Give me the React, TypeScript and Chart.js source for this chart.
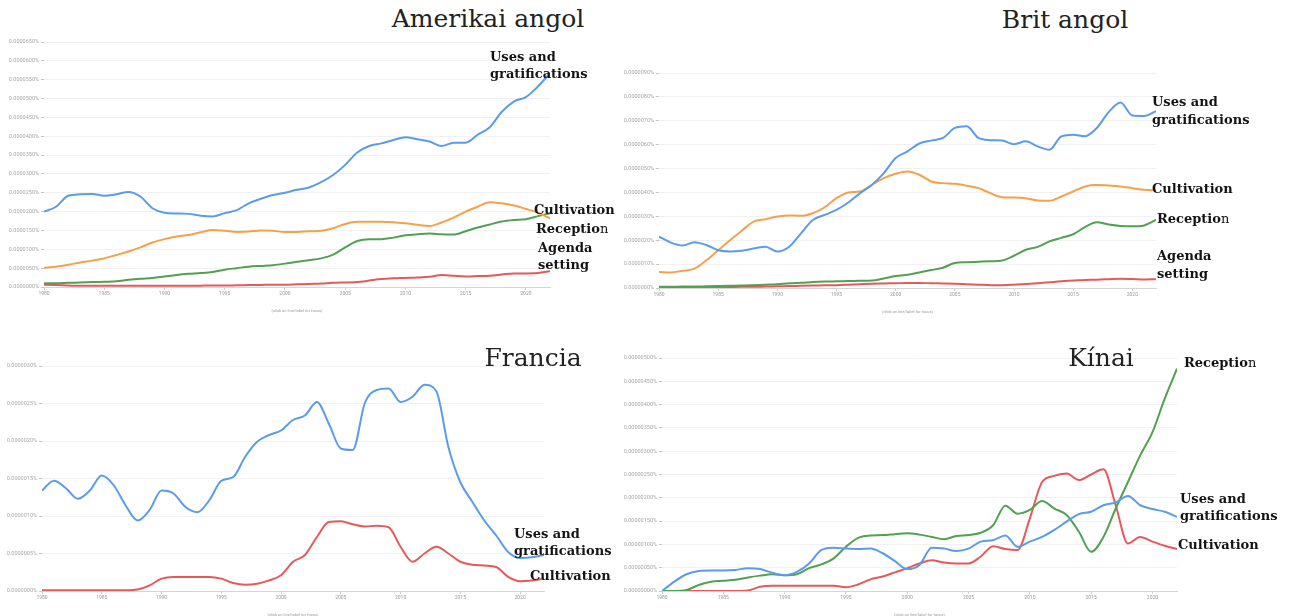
import React, { useEffect, useRef } from 'react';
import { Chart, registerables } from 'chart.js';

Chart.register(...registerables);

// Years on the x axis (shared by every panel)
const years = [
  1980, 1981, 1982, 1983, 1984, 1985, 1986, 1987, 1988, 1989,
  1990, 1991, 1992, 1993, 1994, 1995, 1996, 1997, 1998, 1999,
  2000, 2001, 2002, 2003, 2004, 2005, 2006, 2007, 2008, 2009,
  2010, 2011, 2012, 2013, 2014, 2015, 2016, 2017, 2018, 2019,
  2020, 2021, 2022,
];

const xTickLabels = ['1980', '1985', '1990', '1995', '2000', '2005', '2010', '2015', '2020'];

// --- Amerikai angol (values in units of 0.0000010 %) ---
const amUses = [
  20.0, 21.3, 24.2, 24.6, 24.7, 24.2, 24.6, 25.2, 24.0, 20.9,
  19.7, 19.5, 19.4, 18.9, 18.7, 19.6, 20.4, 22.2, 23.4, 24.4,
  25.0, 25.8, 26.4, 27.8, 29.7, 32.4, 35.7, 37.4, 38.1, 39.0,
  39.7, 39.2, 38.6, 37.4, 38.3, 38.3, 40.4, 42.4, 46.5, 49.2,
  50.4, 53.2, 56.7,
];
const amCultivation = [
  5.1, 5.4, 5.9, 6.5, 7.0, 7.6, 8.5, 9.4, 10.5, 11.8,
  12.7, 13.4, 13.8, 14.5, 15.1, 14.9, 14.6, 14.7, 15.0, 14.9,
  14.6, 14.6, 14.8, 14.9, 15.6, 16.7, 17.3, 17.3, 17.3, 17.2,
  16.9, 16.5, 16.2, 17.1, 18.4, 20.0, 21.3, 22.5, 22.2, 21.6,
  20.7, 19.7, 18.2,
];
const amReception = [
  1.0, 1.0, 1.1, 1.2, 1.3, 1.4, 1.5, 1.9, 2.2, 2.4,
  2.8, 3.2, 3.5, 3.7, 4.0, 4.6, 5.0, 5.4, 5.6, 5.8,
  6.2, 6.7, 7.1, 7.6, 8.6, 10.5, 12.2, 12.7, 12.7, 13.1,
  13.7, 14.0, 14.2, 14.0, 13.9, 14.8, 15.8, 16.6, 17.4, 17.8,
  18.0, 18.8, 19.6,
];
const amAgenda = [
  0.6, 0.5, 0.4, 0.3, 0.3, 0.3, 0.3, 0.3, 0.3, 0.3,
  0.3, 0.3, 0.3, 0.35, 0.4, 0.4, 0.45, 0.5, 0.55, 0.6,
  0.6, 0.7, 0.8, 0.9, 1.1, 1.2, 1.3, 1.7, 2.1, 2.3,
  2.4, 2.5, 2.7, 3.2, 3.0, 2.8, 2.9, 3.0, 3.3, 3.6,
  3.6, 3.7, 4.2,
];

// --- Brit angol (values in units of 0.0000010 %) ---
const brUses = [
  2.15, 1.9, 1.78, 1.92, 1.8, 1.58, 1.53, 1.56, 1.65, 1.73,
  1.53, 1.73, 2.29, 2.85, 3.06, 3.27, 3.58, 3.97, 4.32, 4.81,
  5.44, 5.72, 6.05, 6.17, 6.28, 6.7, 6.77, 6.28, 6.19, 6.17,
  6.02, 6.14, 5.93, 5.79, 6.35, 6.42, 6.35, 6.7, 7.36, 7.76,
  7.22, 7.2, 7.4,
];
const brCultivation = [
  0.67, 0.65, 0.72, 0.81, 1.16, 1.58, 2.0, 2.4, 2.78, 2.88,
  2.99, 3.04, 3.02, 3.13, 3.38, 3.76, 4.0, 4.04, 4.32, 4.6,
  4.78, 4.88, 4.74, 4.46, 4.39, 4.36, 4.28, 4.18, 3.97, 3.8,
  3.79, 3.76, 3.66, 3.65, 3.83, 4.04, 4.25, 4.31, 4.29, 4.25,
  4.18, 4.11, 4.08,
];
const brReception = [
  0.05, 0.05, 0.06, 0.06, 0.07, 0.08, 0.09, 0.1, 0.12, 0.14,
  0.16, 0.2, 0.22, 0.25, 0.27, 0.28, 0.29, 0.3, 0.31, 0.4,
  0.5, 0.55, 0.65, 0.75, 0.85, 1.05, 1.08, 1.1, 1.12, 1.15,
  1.35, 1.6, 1.72, 1.95, 2.1, 2.25, 2.55, 2.75, 2.66, 2.6,
  2.58, 2.62, 2.85,
];
const brAgenda = [
  0.0, 0.01, 0.02, 0.02, 0.03, 0.03, 0.04, 0.05, 0.05, 0.06,
  0.07, 0.08, 0.09, 0.1, 0.11, 0.12, 0.14, 0.16, 0.18, 0.19,
  0.2, 0.21, 0.21, 0.2, 0.19, 0.18, 0.16, 0.14, 0.12, 0.12,
  0.14, 0.17, 0.2, 0.24, 0.28, 0.31, 0.34, 0.35, 0.37, 0.39,
  0.38, 0.36, 0.37,
];

// --- Francia (values in units of 0.0000001 %) ---
const frUses = [
  13.4, 14.7, 13.7, 12.3, 13.4, 15.4, 14.1, 11.4, 9.4, 10.8,
  13.4, 13.0, 11.2, 10.5, 12.1, 14.7, 15.2, 17.9, 19.9, 20.8,
  21.4, 22.8, 23.4, 25.2, 22.3, 19.0, 18.8, 25.0, 26.8, 27.0,
  25.2, 25.9, 27.5, 26.6, 19.2, 14.5, 11.9, 9.4, 7.4, 5.2,
  4.4, 4.5, 4.8,
];
const frCultivation = [
  0.1, 0.1, 0.1, 0.1, 0.1, 0.1, 0.1, 0.1, 0.2, 0.75,
  1.65, 1.87, 1.87, 1.87, 1.87, 1.65, 1.07, 0.85, 0.98, 1.42,
  2.1, 3.9, 4.8, 7.2, 9.2, 9.3, 8.9, 8.6, 8.7, 8.5,
  5.9, 3.9, 5.0, 5.9, 5.0, 3.9, 3.5, 3.4, 3.2, 1.87,
  1.3, 1.4, 1.65,
];

// --- Kínai (values in units of 0.0000001 %) ---
const cnUses = [
  0.0, 2.0, 3.6, 4.3, 4.4, 4.4, 4.5, 4.9, 4.7, 3.9,
  3.4, 4.1, 5.9, 8.8, 9.3, 9.1, 9.0, 9.1, 8.1, 6.4,
  4.7, 5.6, 9.3, 9.1, 8.6, 9.1, 10.6, 10.9, 11.9, 9.5,
  10.6, 11.6, 13.1, 14.9, 16.5, 17.0, 18.4, 19.0, 20.4, 18.4,
  17.6, 17.0, 15.9,
];
const cnReception = [
  0.0, 0.0, 0.2, 1.3, 2.0, 2.2, 2.4, 2.9, 3.3, 3.6,
  3.4, 3.6, 4.9, 5.7, 7.0, 9.5, 11.4, 11.9, 12.0, 12.2,
  12.4, 12.1, 11.6, 11.1, 11.8, 12.0, 12.5, 14.1, 18.3, 16.6,
  17.4, 19.3, 17.7, 16.3, 12.7, 8.4, 11.6, 17.7, 23.4, 29.1,
  34.1, 41.3, 47.7,
];
const cnCultivation = [
  0.0, 0.0, 0.0, 0.0, 0.0, 0.0, 0.0, 0.1, 0.9, 1.1,
  1.1, 1.1, 1.1, 1.1, 1.1, 0.8, 1.4, 2.5, 3.1, 4.0,
  4.9, 5.9, 6.6, 6.1, 5.9, 5.9, 7.4, 9.6, 9.0, 8.8,
  15.6, 23.4, 24.7, 25.2, 23.8, 25.0, 26.1, 18.4, 10.2, 11.6,
  10.6, 9.7, 9.0,
];

const BLUE = '#5b9bea';
const ORANGE = '#f5a04b';
const GREEN = '#52a052';
const RED = '#e5595b';

type Series = { data: number[]; color: string };
type Panel = {
  id: string;
  left: number;
  top: number;
  width: number;
  height: number;
  yw: number;
  yMax: number;
  yStep: number;
  unit: number;
  decimals: number;
  series: Series[];
};

const panels: Panel[] = [
  {
    id: 'am', left: 4, top: 36, width: 554, height: 277, yw: 40,
    yMax: 65, yStep: 5, unit: 1e-6, decimals: 7,
    series: [
      { data: amUses, color: BLUE },
      { data: amCultivation, color: ORANGE },
      { data: amReception, color: GREEN },
      { data: amAgenda, color: RED },
    ],
  },
  {
    id: 'br', left: 619, top: 67, width: 545, height: 247, yw: 40,
    yMax: 9, yStep: 1, unit: 1e-6, decimals: 7,
    series: [
      { data: brUses, color: BLUE },
      { data: brCultivation, color: ORANGE },
      { data: brReception, color: GREEN },
      { data: brAgenda, color: RED },
    ],
  },
  {
    id: 'fr', left: 4, top: 360, width: 548, height: 257, yw: 38,
    yMax: 30, yStep: 5, unit: 1e-7, decimals: 7,
    series: [
      { data: frUses, color: BLUE },
      { data: frCultivation, color: RED },
    ],
  },
  {
    id: 'cn', left: 622, top: 352, width: 563, height: 265, yw: 40,
    yMax: 50, yStep: 5, unit: 1e-7, decimals: 8,
    series: [
      { data: cnUses, color: BLUE },
      { data: cnReception, color: GREEN },
      { data: cnCultivation, color: RED },
    ],
  },
];

function NgramPanel({ p }: { p: Panel }) {
  const ref = useRef<HTMLCanvasElement | null>(null);
  useEffect(() => {
    if (!ref.current) return;
    const chart = new Chart(ref.current, {
      type: 'line',
      data: {
        datasets: p.series.map((s) => ({
          data: years.map((yr, i) => ({ x: yr, y: s.data[i] })),
          borderColor: s.color,
          backgroundColor: s.color,
          borderWidth: 2,
          pointRadius: 0,
          cubicInterpolationMode: 'monotone' as const,
          fill: false,
        })),
      },
      options: {
        responsive: false,
        animation: false,
        devicePixelRatio: 1,
        layout: { padding: { top: 6, right: 8, left: 0, bottom: 0 } },
        plugins: {
          legend: { display: false },
          tooltip: { enabled: false },
        },
        scales: {
          x: {
            type: 'linear',
            min: years[0],
            max: years[years.length - 1],
            ticks: {
              stepSize: 5,
              includeBounds: false,
              autoSkip: false,
              maxRotation: 0,
              font: { size: 5, family: 'Roboto' },
              color: '#9a9a9a',
              padding: 1,
              callback: (v: any) => {
                const s = String(v);
                return xTickLabels.includes(s) ? s : '';
              },
            },
            grid: { drawOnChartArea: false, tickLength: 3, color: '#cfcfcf' },
            border: { display: true, color: '#d5d5d5' },
            title: {
              display: true,
              text: '(click on line/label for focus)',
              font: { size: 4, family: 'Roboto' },
              color: '#9a9a9a',
              padding: 0,
            },
            afterFit: (s: any) => {
              s.height = 26;
            },
          },
          y: {
            min: 0,
            max: p.yMax,
            ticks: {
              stepSize: p.yStep,
              font: { size: 5.5, family: 'Roboto' },
              color: '#a8a8a8',
              padding: 2,
              callback: (v: any) => (Number(v) * p.unit).toFixed(p.decimals) + '%',
            },
            grid: { color: '#f1f1f1', tickColor: '#c4c4c4', tickLength: 3 },
            border: { display: false },
            afterFit: (s: any) => {
              s.width = p.yw;
            },
          },
        },
      },
    });
    return () => chart.destroy();
  }, [p]);
  return (
    <canvas
      ref={ref}
      width={p.width}
      height={p.height}
      style={{ position: 'absolute', left: p.left, top: p.top, width: p.width, height: p.height }}
    />
  );
}

const titleStyle: React.CSSProperties = {
  position: 'absolute',
  fontFamily: '"DejaVu Serif", serif',
  fontSize: 25,
  lineHeight: '25px',
  color: '#222',
  whiteSpace: 'nowrap',
  transform: 'translateX(-50%)',
};

const noteStyle: React.CSSProperties = {
  position: 'absolute',
  fontFamily: '"DejaVu Serif", serif',
  fontWeight: 'bold',
  fontSize: 13,
  lineHeight: '13px',
  color: '#141414',
  whiteSpace: 'nowrap',
};

function Note({ x, y, children }: { x: number; y: number; children: React.ReactNode }) {
  return <div style={{ ...noteStyle, left: x, top: y - 11 }}>{children}</div>;
}

function Reception() {
  return (
    <>
      Receptio<span style={{ fontWeight: 'normal' }}>n</span>
    </>
  );
}

export default function App() {
  return (
    <div
      style={{
        position: 'fixed',
        left: 0,
        top: 0,
        width: 1291,
        height: 616,
        background: '#fff',
        overflow: 'hidden',
      }}
    >
      {panels.map((p) => (
        <NgramPanel key={p.id} p={p} />
      ))}

      <div style={{ ...titleStyle, left: 488, top: 6 }}>Amerikai angol</div>
      <div style={{ ...titleStyle, left: 1065, top: 7 }}>Brit angol</div>
      <div style={{ ...titleStyle, left: 533, top: 345 }}>Francia</div>
      <div style={{ ...titleStyle, left: 1101, top: 345 }}>Kínai</div>

      <Note x={490} y={61}>Uses and</Note>
      <Note x={490} y={78}>gratifications</Note>
      <Note x={534} y={214}>Cultivation</Note>
      <Note x={536} y={233}><Reception /></Note>
      <Note x={538} y={252}>Agenda</Note>
      <Note x={538} y={269}>setting</Note>

      <Note x={1152} y={106}>Uses and</Note>
      <Note x={1152} y={124}>gratifications</Note>
      <Note x={1152} y={193}>Cultivation</Note>
      <Note x={1157} y={223}><Reception /></Note>
      <Note x={1157} y={260}>Agenda</Note>
      <Note x={1157} y={278}>setting</Note>

      <Note x={514} y={538}>Uses and</Note>
      <Note x={514} y={555}>gratifications</Note>
      <Note x={530} y={580}>Cultivation</Note>

      <Note x={1184} y={367}><Reception /></Note>
      <Note x={1180} y={503}>Uses and</Note>
      <Note x={1180} y={520}>gratifications</Note>
      <Note x={1178} y={549}>Cultivation</Note>
    </div>
  );
}
